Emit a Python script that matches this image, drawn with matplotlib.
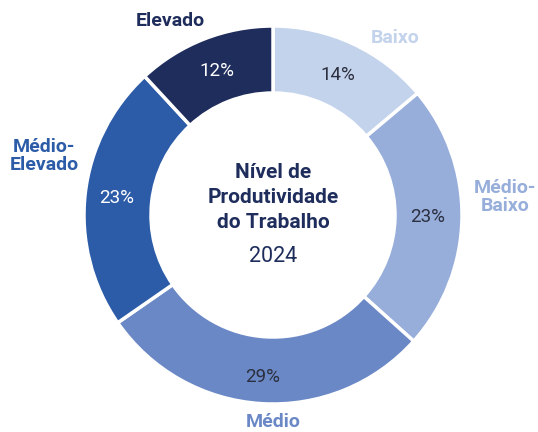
import matplotlib
matplotlib.use("Agg")
import matplotlib.pyplot as plt
import numpy as np

categories = ["Baixo", "Médio-Baixo", "Médio", "Médio-Elevado", "Elevado"]
values = [14, 23, 29, 23, 12]
pct_labels = ["14%", "23%", "29%", "23%", "12%"]
colors = ["#c4d3ec", "#97aedb", "#6b88c6", "#2c5ca8", "#1f2d5c"]
pct_colors = ["#2b2f3f", "#2b2f3f", "#2b2f3f", "#ffffff", "#ffffff"]
cat_display = ["Baixo", "Médio-\nBaixo", "Médio", "Médio-\nElevado", "Elevado"]
title_lines = ["Nível de", "Produtividade", "do Trabalho"]
year = "2024"

W, H = 538, 432
fig = plt.figure(figsize=(W / 100, H / 100), dpi=100)
ax = fig.add_axes([0, 0, 1, 1])

cx, cy, R = 273, H - 215, 189
ring = 67

wedges, _ = ax.pie(values, colors=colors, startangle=90, counterclock=False,
                   center=(cx, cy), radius=R,
                   wedgeprops=dict(width=ring, edgecolor="white", linewidth=2.5))
ax.set_xlim(0, W)
ax.set_ylim(0, H)
ax.set_aspect("equal")
ax.axis("off")

# label anchor positions (pixels from top-left)
label_pos = [(395, 38), (505, 197), (273, 422), (44, 156), (170, 21)]
pct_r_off = [0, 0, 8, 3, 0]
for w, p, pc, name, (lx, ly), ro in zip(wedges, pct_labels, pct_colors,
                                         cat_display, label_pos, pct_r_off):
    ang = np.deg2rad((w.theta1 + w.theta2) / 2)
    rmid = R - ring / 2 - 1 + ro
    ax.text(cx + rmid * np.cos(ang), cy + rmid * np.sin(ang), p,
            ha="center", va="center", fontsize=13.5, color=pc,
            family="Roboto", fontweight="normal")
    ax.text(lx, H - ly, name,
            ha="center", va="center", fontsize=14, color=w.get_facecolor(),
            family="Roboto", fontweight="bold", linespacing=1.0)

for i, t in enumerate(title_lines):
    ax.text(cx, H - (172 + 25.5 * i), t, ha="center", va="center", fontsize=15,
            color="#1e2d5c", fontweight="bold", family="Roboto")
ax.text(cx, H - 256, year, ha="center", va="center", fontsize=15.5,
        color="#1e2d5c", family="Roboto", fontweight="normal")

fig.savefig("out.png", dpi=100)
